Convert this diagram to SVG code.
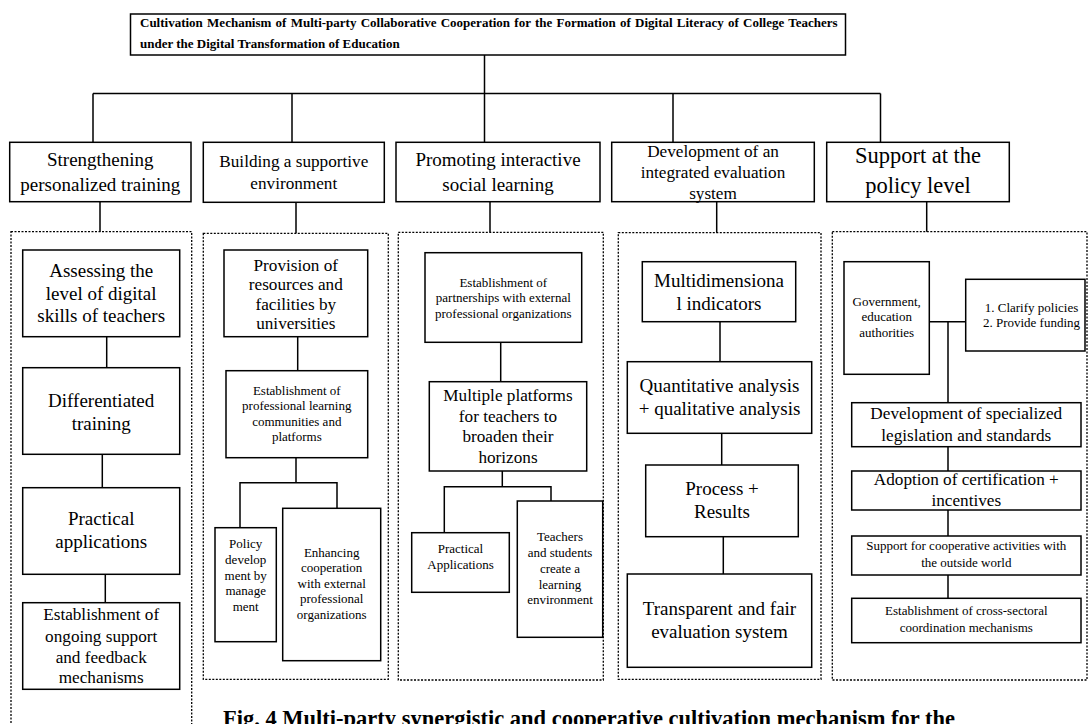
<svg xmlns="http://www.w3.org/2000/svg" width="1088" height="724" viewBox="0 0 1088 724">
  <style>
    .box { fill: #fff; stroke: #000; stroke-width: 1.5; }
    .grp { fill: none; stroke: #000; stroke-width: 1.3; stroke-dasharray: 2 1.5; }
    .ln { fill: none; stroke: #000; stroke-width: 1.5; }
    text { font-family: "Liberation Serif", "Times New Roman", serif; fill: #000; text-anchor: middle; }
    .hd { font-weight: bold; font-size: 13px; text-anchor: start; }
    .cap { font-weight: bold; font-size: 22.5px; text-anchor: start; }
    .s13 { font-size: 13px; }
    .s17 { font-size: 17.2px; }
    .s19 { font-size: 19px; }
    .s22 { font-size: 22.5px; }
  </style>

  <rect width="1088" height="724" fill="#fff"/>

  <!-- dotted groupings under each branch -->
  <g id="groups">
    <rect class="grp" x="11" y="231.7" width="180.7" height="520"/>
    <rect class="grp" x="203.3" y="233.3" width="185" height="446"/>
    <rect class="grp" x="398.3" y="232.3" width="205" height="447.7"/>
    <rect class="grp" x="618.3" y="232.7" width="202.7" height="446.6"/>
    <rect class="grp" x="832.3" y="231.7" width="254.7" height="448.3"/>
  </g>

  <!-- connectors -->
  <g id="connectors" class="ln">
    <path d="M484.5 55 V93.5 M93 93.5 H880.5 M93 93.5 V142.3 M292 93.5 V142.3 M484.5 93.5 V142.3 M673 93.5 V142.3 M880.5 93.5 V142.3"/>
    <path d="M100 201.7 V231.7 M296 202.3 V233.3 M490 201.7 V232.3 M716.7 201.7 V232.7 M926.7 201.7 V231.7"/>
    <path d="M106.7 336.7 V367.7 M102.3 454.3 V487.7 M105.3 574.3 V602.7"/>
    <path d="M297.7 336.7 V370.7 M296 457.7 V482.7 M240 527.7 V482.7 H337 V508.3"/>
    <path d="M500.7 342.3 V381.7 M502.3 471 V486.7 M444.3 532.7 V486.7 H551 V501"/>
    <path d="M720 321.7 V361.7 M721.7 433.3 V465 M723.3 536.7 V574"/>
    <path d="M929.3 321.7 H965.7 M948 321.7 V402.7 M948 446.7 V471 M948 510 V536 M948 575 V598.3"/>
  </g>

  <!-- root -->
  <g id="root">
    <rect class="box" x="130.5" y="14" width="715" height="41"/>
    <text class="hd" x="140" y="27" word-spacing="1">Cultivation Mechanism of Multi-party Collaborative Cooperation for the Formation of Digital Literacy of College Teachers</text>
    <text class="hd" x="140" y="47.5">under the Digital Transformation of Education</text>
  </g>

  <!-- branch headings -->
  <g id="branch-personalized">
    <rect class="box" x="9.7" y="142.3" width="181.3" height="59.4"/>
    <text class="s19" x="100.3" y="166">Strengthening</text>
    <text class="s19" x="100.3" y="190.5">personalized training</text>
  </g>
  <g id="branch-environment">
    <rect class="box" x="203.3" y="142.3" width="181" height="60"/>
    <text class="s17" x="293.8" y="167">Building a supportive</text>
    <text class="s17" x="293.8" y="188.5">environment</text>
  </g>
  <g id="branch-social">
    <rect class="box" x="396" y="142.3" width="204" height="59.4"/>
    <text class="s19" x="498" y="165.5">Promoting interactive</text>
    <text class="s19" x="498" y="191">social learning</text>
  </g>
  <g id="branch-evaluation">
    <rect class="box" x="611.7" y="142.3" width="202.6" height="59.4"/>
    <text class="s17" x="713" y="156.5">Development of an</text>
    <text class="s17" x="713" y="177.5">integrated evaluation</text>
    <text class="s17" x="713" y="198.5">system</text>
  </g>
  <g id="branch-policy">
    <rect class="box" x="826.7" y="142.3" width="182.6" height="59.4"/>
    <text class="s22" x="918" y="163.3">Support at the</text>
    <text class="s22" x="918" y="192.5">policy level</text>
  </g>

  <!-- personalized training -->
  <g id="n-assessing">
    <rect class="box" x="22.7" y="250" width="157" height="86.7"/>
    <text class="s19" x="101.2" y="277">Assessing the</text>
    <text class="s19" x="101.2" y="299.5">level of digital</text>
    <text class="s19" x="101.2" y="322">skills of teachers</text>
  </g>
  <g id="n-differentiated">
    <rect class="box" x="22.7" y="367.7" width="157" height="86.6"/>
    <text class="s19" x="101.2" y="406.5">Differentiated</text>
    <text class="s19" x="101.2" y="429.5">training</text>
  </g>
  <g id="n-practical">
    <rect class="box" x="22.7" y="487.7" width="157" height="86.6"/>
    <text class="s19" x="101.2" y="525">Practical</text>
    <text class="s19" x="101.2" y="548.3">applications</text>
  </g>
  <g id="n-ongoing">
    <rect class="box" x="22.7" y="602.7" width="157" height="86.6"/>
    <text class="s17" x="101.2" y="620">Establishment of</text>
    <text class="s17" x="101.2" y="641.5">ongoing support</text>
    <text class="s17" x="101.2" y="662.5">and feedback</text>
    <text class="s17" x="101.2" y="683.3">mechanisms</text>
  </g>

  <!-- supportive environment -->
  <g id="n-resources">
    <rect class="box" x="224" y="250" width="143.7" height="86.7"/>
    <text class="s17" x="295.8" y="270.7">Provision of</text>
    <text class="s17" x="295.8" y="290">resources and</text>
    <text class="s17" x="295.8" y="309.5">facilities by</text>
    <text class="s17" x="295.8" y="329">universities</text>
  </g>
  <g id="n-communities">
    <rect class="box" x="226" y="370.7" width="141.7" height="87"/>
    <text class="s13" x="296.8" y="394.5">Establishment of</text>
    <text class="s13" x="296.8" y="410">professional learning</text>
    <text class="s13" x="296.8" y="425.5">communities and</text>
    <text class="s13" x="296.8" y="441">platforms</text>
  </g>
  <g id="n-management">
    <rect class="box" x="215" y="527.7" width="61.3" height="114"/>
    <text class="s13" x="245.7" y="548.3">Policy</text>
    <text class="s13" x="245.7" y="564">develop</text>
    <text class="s13" x="245.7" y="579.5">ment by</text>
    <text class="s13" x="245.7" y="595">manage</text>
    <text class="s13" x="245.7" y="610.5">ment</text>
  </g>
  <g id="n-external-coop">
    <rect class="box" x="282.7" y="508.3" width="98" height="152.4"/>
    <text class="s13" x="331.7" y="556.5">Enhancing</text>
    <text class="s13" x="331.7" y="572">cooperation</text>
    <text class="s13" x="331.7" y="587.5">with external</text>
    <text class="s13" x="331.7" y="603">professional</text>
    <text class="s13" x="331.7" y="618.5">organizations</text>
  </g>

  <!-- interactive social learning -->
  <g id="n-partnerships">
    <rect class="box" x="425" y="252.7" width="156.7" height="89.6"/>
    <text class="s13" x="503.3" y="286.7">Establishment of</text>
    <text class="s13" x="503.3" y="302.2">partnerships with external</text>
    <text class="s13" x="503.3" y="317.7">professional organizations</text>
  </g>
  <g id="n-platforms">
    <rect class="box" x="429.3" y="381.7" width="157.4" height="89.3"/>
    <text class="s17" x="508" y="400.5">Multiple platforms</text>
    <text class="s17" x="508" y="421.5">for teachers to</text>
    <text class="s17" x="508" y="442">broaden their</text>
    <text class="s17" x="508" y="463">horizons</text>
  </g>
  <g id="n-practical-apps">
    <rect class="box" x="411.7" y="532.7" width="97.6" height="59.6"/>
    <text class="s13" x="460.5" y="553.3">Practical</text>
    <text class="s13" x="460.5" y="569">Applications</text>
  </g>
  <g id="n-teachers-students">
    <rect class="box" x="517.3" y="501" width="85.4" height="136.3"/>
    <text class="s13" x="560" y="541">Teachers</text>
    <text class="s13" x="560" y="557">and students</text>
    <text class="s13" x="560" y="573">create a</text>
    <text class="s13" x="560" y="588.5">learning</text>
    <text class="s13" x="560" y="604.3">environment</text>
  </g>

  <!-- integrated evaluation -->
  <g id="n-indicators">
    <rect class="box" x="642.3" y="261.7" width="153.4" height="60"/>
    <text class="s19" x="719" y="286.7">Multidimensiona</text>
    <text class="s19" x="719" y="310">l indicators</text>
  </g>
  <g id="n-analysis">
    <rect class="box" x="627.3" y="361.7" width="184.4" height="71.6"/>
    <text class="s19" x="719.5" y="391.7">Quantitative analysis</text>
    <text class="s19" x="719.5" y="415">+ qualitative analysis</text>
  </g>
  <g id="n-process">
    <rect class="box" x="645.7" y="465" width="152.6" height="71.7"/>
    <text class="s19" x="722" y="495">Process +</text>
    <text class="s19" x="722" y="518.3">Results</text>
  </g>
  <g id="n-transparent">
    <rect class="box" x="627.3" y="574" width="184.4" height="93.3"/>
    <text class="s19" x="719.5" y="615">Transparent and fair</text>
    <text class="s19" x="719.5" y="638.3">evaluation system</text>
  </g>

  <!-- policy level -->
  <g id="n-government">
    <rect class="box" x="844" y="261.7" width="85.3" height="112.6"/>
    <text class="s13" x="886.7" y="305.7">Government,</text>
    <text class="s13" x="886.7" y="321.2">education</text>
    <text class="s13" x="886.7" y="336.7">authorities</text>
  </g>
  <g id="n-clarify">
    <rect class="box" x="965.7" y="279.3" width="119.3" height="71.7"/>
    <text class="s13" x="1031.5" y="311.7">1. Clarify policies</text>
    <text class="s13" x="1031.5" y="326.7">2. Provide funding</text>
  </g>
  <g id="n-legislation">
    <rect class="box" x="851.7" y="402.7" width="229.3" height="44"/>
    <text class="s17" x="966.3" y="419.3">Development of specialized</text>
    <text class="s17" x="966.3" y="440.7">legislation and standards</text>
  </g>
  <g id="n-certification">
    <rect class="box" x="851.7" y="471" width="229.3" height="39"/>
    <text class="s17" x="966.3" y="485">Adoption of certification +</text>
    <text class="s17" x="966.3" y="506">incentives</text>
  </g>
  <g id="n-outside">
    <rect class="box" x="851.7" y="536" width="229.3" height="39"/>
    <text class="s13" x="966.3" y="550">Support for cooperative activities with</text>
    <text class="s13" x="966.3" y="566.7">the outside world</text>
  </g>
  <g id="n-cross-sectoral">
    <rect class="box" x="851.7" y="598.3" width="229.3" height="44.4"/>
    <text class="s13" x="966.3" y="615">Establishment of cross-sectoral</text>
    <text class="s13" x="966.3" y="631.7">coordination mechanisms</text>
  </g>

  <!-- figure caption, running past the lower edge -->
  <text class="cap" x="223" y="725.5">Fig. 4 Multi-party synergistic and cooperative cultivation mechanism for the</text>
</svg>
